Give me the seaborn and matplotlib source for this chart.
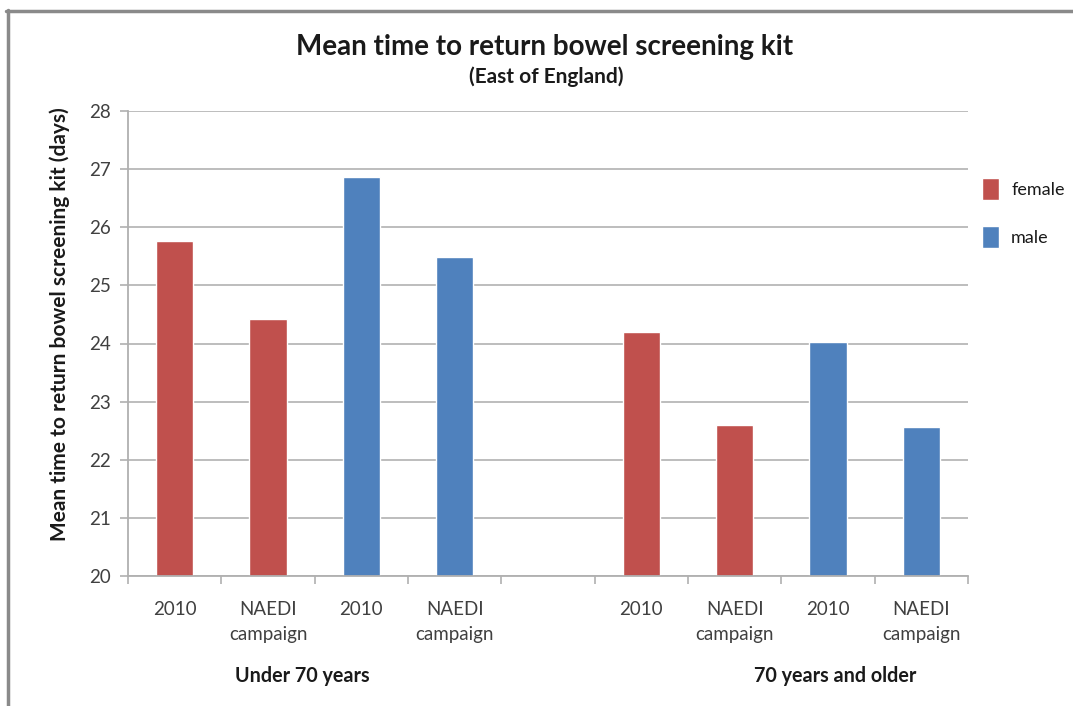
import matplotlib
matplotlib.use("Agg")
import matplotlib.pyplot as plt
from matplotlib.lines import Line2D
from matplotlib.patches import Patch
import seaborn as sns
import pandas as pd

# Bar slots (slot 4 is left empty to separate the age groups)
positions = [0, 1, 2, 3, 5, 6, 7, 8]
sexes = ["female", "female", "male", "male", "female", "female", "male", "male"]
values = [25.77, 24.42, 26.86, 25.49, 24.20, 22.60, 24.03, 22.56]
tick_labels = ["2010", "NAEDI\ncampaign", "2010", "NAEDI\ncampaign", "",
               "2010", "NAEDI\ncampaign", "2010", "NAEDI\ncampaign"]
groups = ["Under 70 years", "70 years and older"]
group_centres = [1.365, 7.08]
colors = {"female": "#C0504D", "male": "#4F81BD"}

df = pd.DataFrame({"pos": positions, "sex": sexes, "value": values})

sns.set_theme(style="white")
plt.rcParams["font.family"] = ["Lato", "DejaVu Sans"]

fig = plt.figure(figsize=(10.73, 7.06), dpi=100)
ax = fig.add_axes([128 / 1073, 1 - 576 / 706, (968 - 128) / 1073, (576 - 111) / 706])

sns.barplot(data=df, x="pos", y="value", hue="sex", palette=colors,
            native_scale=True, dodge=False, width=0.4, ax=ax,
            saturation=1, legend=False, bottom=0)

ax.set_xlim(-0.5, 8.5)
ax.set_ylim(20, 28)
ax.set_yticks(range(20, 29))
ax.yaxis.grid(True, color="#b8b8b8", linewidth=1.3)
ax.set_axisbelow(True)

for side in ["top", "right"]:
    ax.spines[side].set_visible(False)
for side in ["left", "bottom"]:
    ax.spines[side].set_color("#b0b0b0")
    ax.spines[side].set_linewidth(1.3)

ax.set_xticks(range(9))
ax.set_xticklabels(tick_labels, fontsize=13.5, color="#404040", linespacing=1.55,
                   va="top")
ax.set_xticks([i - 0.5 for i in range(10)], minor=True)
ax.tick_params(axis="x", which="major", length=0, pad=18)
ax.tick_params(axis="x", which="minor", length=6, width=1.2, color="#b0b0b0",
               direction="out", bottom=True)
ax.tick_params(axis="y", which="major", length=6, width=1.2, color="#b0b0b0",
               direction="out", left=True, labelsize=13.5, labelcolor="#404040",
               pad=6)

ax.set_xlabel("")
ax.set_ylabel("")
fig.text(60 / 1073, 1 - 324 / 706, "Mean time to return bowel screening kit (days)",
         rotation=90, ha="center", va="center", fontsize=15,
         fontweight="bold", color="#1a1a1a")

trans = ax.get_xaxis_transform()
for label, cx in zip(groups, group_centres):
    ax.text(cx, -100 / 465, label, transform=trans, ha="center", va="center",
            fontsize=14.2, fontweight="bold", color="#1a1a1a")

fig.text(545 / 1073, 1 - 47 / 706, "Mean time to return bowel screening kit",
         ha="center", va="center", fontsize=20, fontweight="bold", color="#1a1a1a")
fig.text(546 / 1073, 1 - 77 / 706, "(East of England)",
         ha="center", va="center", fontsize=15, fontweight="bold", color="#1a1a1a")

handles = [Patch(facecolor=colors["female"], label="female"),
           Patch(facecolor=colors["male"], label="male")]
fig.legend(handles=handles, loc="upper left",
           bbox_to_anchor=(966 / 1073, 1 - 162 / 706), frameon=False,
           handlelength=0.9, handleheight=1.5, handletextpad=0.7,
           labelspacing=1.45, fontsize=13, labelcolor="#1a1a1a")

# Outer frame on the top and left edges
fig.add_artist(Line2D([6 / 1073, 1], [1 - 10.5 / 706, 1 - 10.5 / 706],
                      transform=fig.transFigure, color="#8a8a8a", linewidth=2.5))
fig.add_artist(Line2D([7.5 / 1073, 7.5 / 1073], [0, 1 - 9.5 / 706],
                      transform=fig.transFigure, color="#8a8a8a", linewidth=2.5))

fig.savefig("out.png", dpi=100)
